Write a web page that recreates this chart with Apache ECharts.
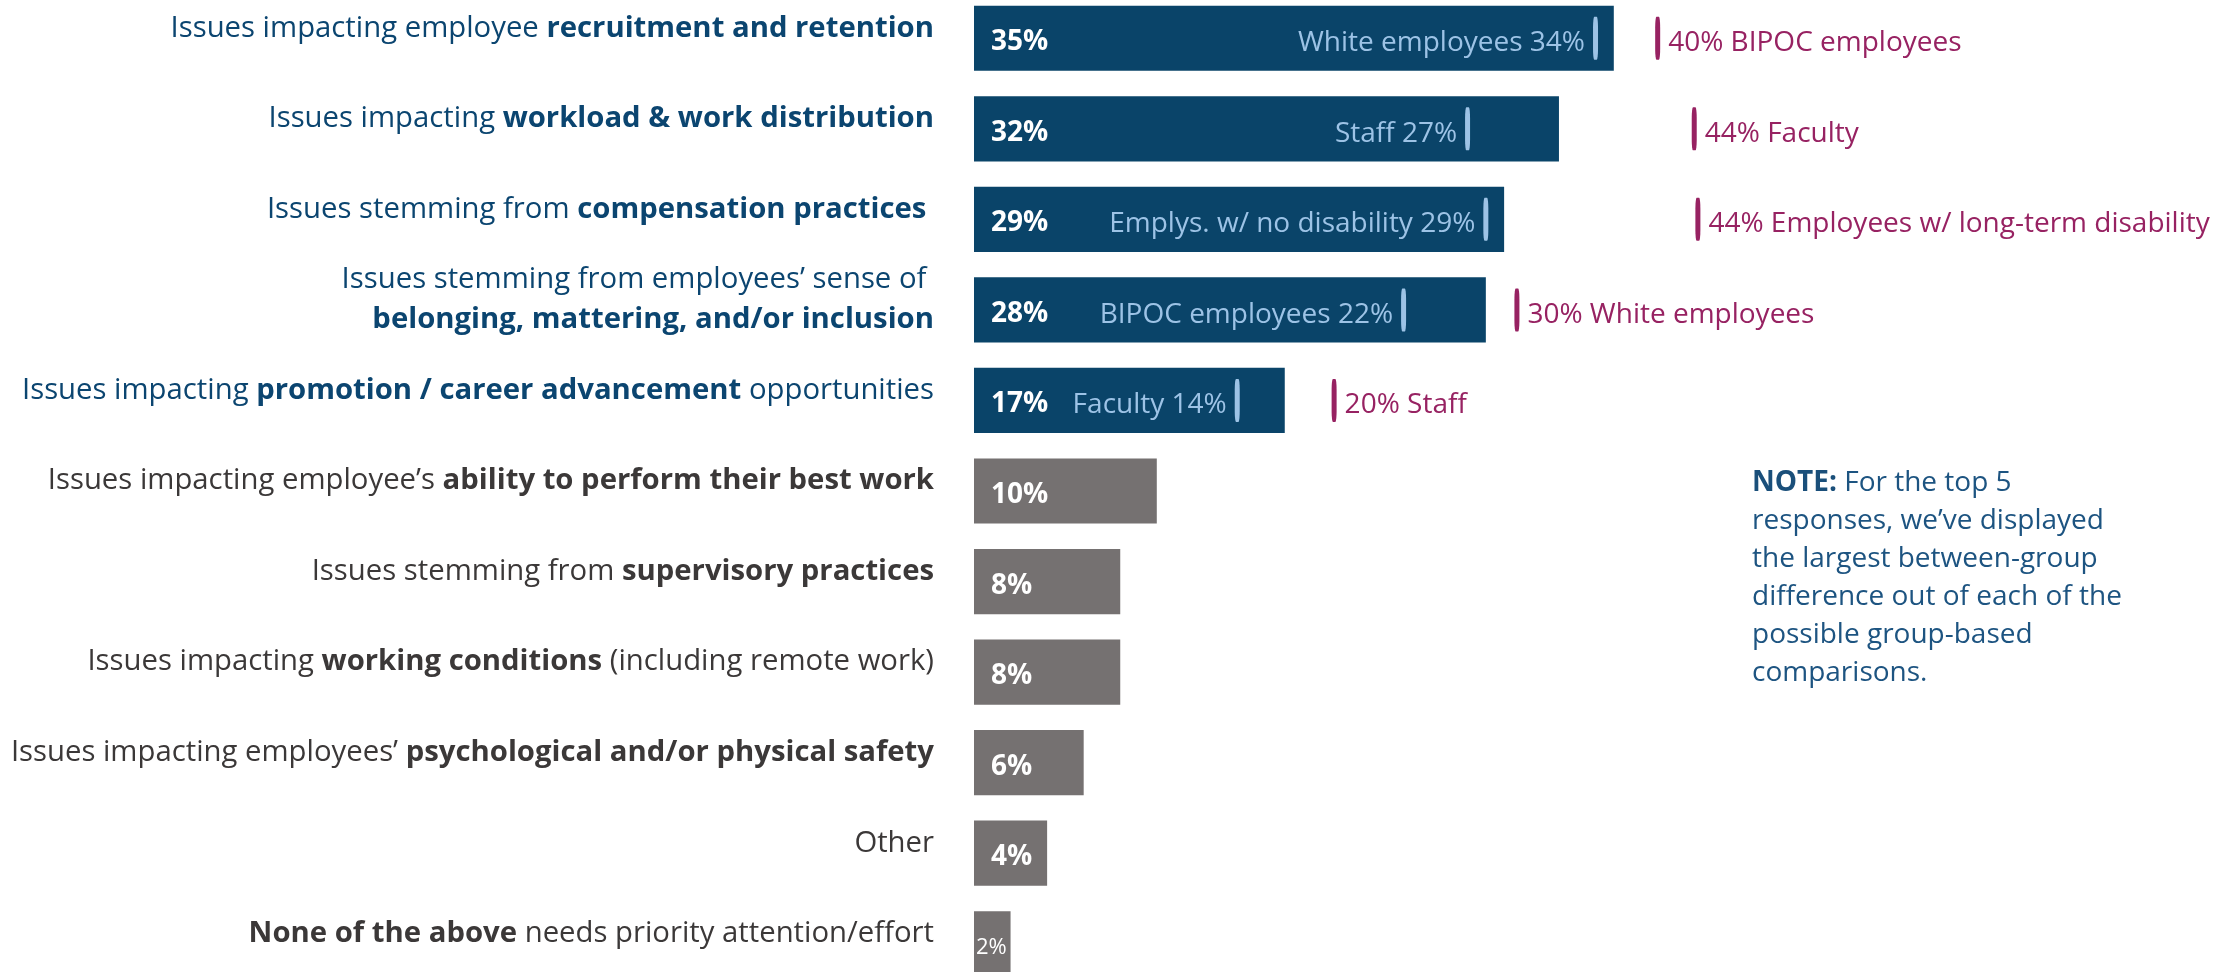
<!DOCTYPE html>
<html>
<head>
<meta charset="utf-8">
<title>Issues needing priority attention</title>
<script src="https://cdn.jsdelivr.net/npm/echarts@6/dist/echarts.min.js"></script>
<style>
  html, body { margin: 0; padding: 0; background: #fff; overflow: hidden; }
  #chart { position: absolute; left: 0; top: -7px; width: 2240px; height: 996px; }
</style>
</head>
<body>
<div id="chart"></div>
<script>
// ** marks the bold part of each label
const categories = [
  'Issues impacting employee **recruitment and retention**',
  'Issues impacting **workload & work distribution**',
  'Issues stemming from **compensation practices** ',
  'Issues stemming from employees’ sense of \n**belonging, mattering, and/or inclusion**',
  'Issues impacting **promotion / career advancement** opportunities',
  'Issues impacting employee’s **ability to perform their best work**',
  'Issues stemming from **supervisory practices**',
  'Issues impacting **working conditions** (including remote work)',
  'Issues impacting employees’ **psychological and/or physical safety**',
  'Other',
  '**None of the above** needs priority attention/effort'
]
const overall = [35, 32, 29, 28, 17, 10, 8, 8, 6, 4, 2]

// between-group comparisons for the top 5
const lowGroup = ['White employees', 'Staff', 'Emplys. w/ no disability', 'BIPOC employees', 'Faculty']
const lowValue = [34, 27, 29, 22, 14]
const lowMarkAt = [34, 27, 28, 23.5, 14.4]
const highGroup = ['BIPOC employees', 'Faculty', 'Employees w/ long-term disability', 'White employees', 'Staff']
const highValue = [40, 44, 44, 30, 20]
const highMarkAt = [37.4, 39.4, 39.6, 29.7, 19.7]

const NAVY = '#0a4469'
const GREY = '#757171'
const LIGHT = '#9dc3e6'
const PLUM = '#972262'
const FONT = '"Open Sans", "Noto Sans", sans-serif'

function toRich(text, prefix) {
  return text.split('\n').map(line =>
    line.split('**').map((part, k) =>
      part ? '{' + prefix + (k % 2 ? 'b' : '') + '|' + part + '}' : ''
    ).join('')
  ).join('\n')
}

const labelStyle = (color, weight) => ({
  color: color, fontWeight: weight, fontSize: 29.3, fontFamily: FONT, lineHeight: 40
})

const myChart = echarts.init(document.getElementById('chart'))
const option = {
  animation: false,
  grid: { left: 974, top: 0, bottom: 0, width: 69 * 18.28 },
  xAxis: { type: 'value', min: 0, max: 69, show: false },
  yAxis: {
    type: 'category',
    inverse: true,
    data: categories,
    axisLine: { show: false },
    axisTick: { show: false },
    axisLabel: {
      margin: 40,
      padding: [0, 0, 20, 0],
      formatter: (v, i) => toRich(v, i < lowGroup.length ? 'n' : 'g'),
      rich: {
        n: labelStyle('#0b4570', 'normal'),
        nb: labelStyle('#0b4570', 'bold'),
        g: labelStyle('#3b3838', 'normal'),
        gb: labelStyle('#3b3838', 'bold')
      }
    }
  },
  series: [
    {
      type: 'bar',
      barCategoryGap: '28%',
      data: overall.map((v, i) => ({
        value: v,
        itemStyle: { color: i < lowGroup.length ? NAVY : GREY },
        label: v < 3 ? { fontWeight: 'normal', fontSize: 22, distance: 2, offset: [0, 4] } : undefined
      })),
      label: {
        show: true,
        position: 'insideLeft',
        distance: 17,
        offset: [0, 4],
        formatter: '{c}%',
        color: '#fff',
        fontWeight: 'bold',
        fontSize: 28,
        fontFamily: FONT
      }
    },
    {
      type: 'scatter',
      symbol: 'roundRect',
      symbolSize: [5, 43],
      z: 5,
      itemStyle: { color: LIGHT, opacity: 1 },
      data: lowMarkAt.map((x, i) => ({
        value: [x, i],
        label: { formatter: lowGroup[i] + ' ' + lowValue[i] + '%' }
      })),
      label: {
        show: true,
        position: 'left',
        distance: 8,
        offset: [0, 5],
        color: LIGHT,
        fontSize: 28,
        fontFamily: FONT
      }
    },
    {
      type: 'scatter',
      symbol: 'roundRect',
      symbolSize: [5, 43],
      z: 5,
      itemStyle: { color: PLUM, opacity: 1 },
      data: highMarkAt.map((x, i) => ({
        value: [x, i],
        label: { formatter: highValue[i] + '% ' + highGroup[i] }
      })),
      label: {
        show: true,
        position: 'right',
        distance: 8,
        offset: [0, 5],
        color: PLUM,
        fontSize: 28,
        fontFamily: FONT
      }
    }
  ],
  graphic: [
    {
      type: 'text',
      left: 1752,
      top: 471,
      style: {
        text: '{b|NOTE:} For the top 5\nresponses, we’ve displayed\nthe largest between-group\ndifference out of each of the\npossible group-based\ncomparisons.',
        fill: '#1d5481',
        fontSize: 28,
        fontFamily: FONT,
        lineHeight: 38,
        rich: {
          b: { fontWeight: 'bold', fontSize: 28, fontFamily: FONT, lineHeight: 38, fill: '#1a4f7a' }
        }
      }
    }
  ]
}
myChart.setOption(option)
</script>
</body>
</html>
